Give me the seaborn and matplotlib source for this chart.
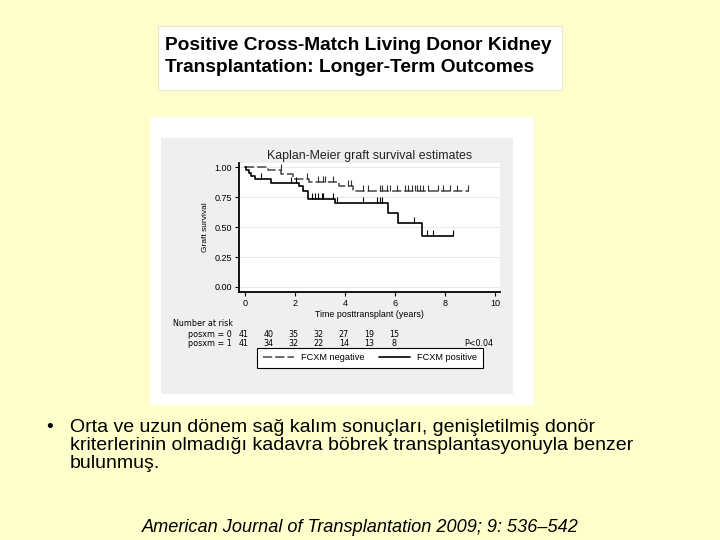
import numpy as np
import pandas as pd
import matplotlib
matplotlib.use("Agg")
import matplotlib.pyplot as plt
from matplotlib.patches import Rectangle
from matplotlib.lines import Line2D
import seaborn as sns

# Kaplan-Meier steps (years, survival after the step)
neg_time = [0, 0.92, 1.45, 1.9, 2.55, 3.75, 4.3, 8.95]
neg_surv = [1.0, 0.975, 0.945, 0.905, 0.877, 0.84, 0.805, 0.805]
neg_cens = [1.43, 2.47, 2.93, 3.13, 3.2, 3.53, 4.13, 4.23, 4.73, 4.93, 5.4, 5.47,
            5.67, 5.8, 6.07, 6.4, 6.53, 6.67, 6.8, 6.87, 7.0, 7.13, 7.33, 7.73,
            7.93, 8.2, 8.47, 8.93]

pos_time = [0, 0.05, 0.15, 0.25, 0.4, 1.05, 2.15, 2.32, 2.5, 3.6, 5.73, 6.13, 7.07, 8.31]
pos_surv = [1.0, 0.976, 0.951, 0.927, 0.90, 0.872, 0.845, 0.80, 0.733, 0.70, 0.617,
            0.532, 0.429, 0.429]
pos_cens = [0.65, 1.85, 2.05, 2.67, 2.8, 2.93, 3.07, 3.13, 3.53, 3.67, 4.73, 5.27,
            5.4, 5.47, 6.77, 7.29, 7.53, 8.31]

risk_years = [0, 1, 2, 3, 4, 5, 6]
risk_neg = [41, 40, 35, 32, 27, 19, 15]
risk_pos = [41, 34, 32, 22, 14, 13, 8]

slide_title = ["Positive Cross-Match Living Donor Kidney",
               "Transplantation: Longer-Term Outcomes"]
bullet_lines = ["Orta ve uzun dönem sağ kalım sonuçları, genişletilmiş donör",
                "kriterlerinin olmadığı kadavra böbrek transplantasyonuyla benzer",
                "bulunmuş."]
citation = "American Journal of Transplantation 2009; 9: 536–542"

sns.set_style("white")
plt.rcParams["font.family"] = ["Liberation Sans", "DejaVu Sans"]
plt.rcParams["text.color"] = "black"
plt.rcParams["axes.labelcolor"] = "black"

W, H = 720, 540


def fbox(x0, y0, x1, y1):
    # pixel box (top-left origin) -> figure fraction [l, b, w, h]
    return [x0 / W, 1 - y1 / H, (x1 - x0) / W, (y1 - y0) / H]


def rect(x0, y0, x1, y1, **kw):
    l, b, w, h = fbox(x0, y0, x1, y1)
    fig.add_artist(Rectangle((l, b), w, h, transform=fig.transFigure, **kw))


fig = plt.figure(figsize=(7.2, 5.4), dpi=100, facecolor="#ffffcc")

# slide title box
rect(158, 26, 562, 90, facecolor="white", edgecolor="#e8e8d0", lw=0.8, zorder=-2)
fig.text(165 / W, 1 - 46 / H, slide_title[0], fontsize=13.8, fontweight="bold", va="center")
fig.text(165 / W, 1 - 67 / H, slide_title[1], fontsize=13.8, fontweight="bold", va="center")

# pasted stata graph
rect(150, 117, 534, 405, facecolor="white", edgecolor="none", zorder=-2)
rect(161, 138, 513, 394, facecolor="#efefef", edgecolor="none", zorder=-1)

ax = fig.add_axes(fbox(239, 163, 500, 292))
ax.set_facecolor("white")

neg_df = pd.DataFrame({"t": neg_time, "s": neg_surv})
pos_df = pd.DataFrame({"t": pos_time, "s": pos_surv})
sns.lineplot(data=neg_df, x="t", y="s", ax=ax, drawstyle="steps-post", color="#454545",
             linestyle=(0, (6, 2)), lw=1.1, estimator=None, sort=False)
sns.lineplot(data=pos_df, x="t", y="s", ax=ax, drawstyle="steps-post", color="black",
             lw=1.2, estimator=None, sort=False)

for times, surv, cens, col in [(neg_time, neg_surv, neg_cens, "#303030"),
                               (pos_time, pos_surv, pos_cens, "black")]:
    idx = np.searchsorted(times, cens, side="right") - 1
    ax.plot(cens, np.array(surv)[idx], linestyle="none", marker=2, markersize=4,
            mew=0.8, color=col)

ax.set_xlim(-0.24, 10.2)
ax.set_ylim(-0.042, 1.036)
ax.set_xticks(range(0, 11, 2))
ax.set_yticks([0, 0.25, 0.5, 0.75, 1.0])
ax.set_yticklabels(["0.00", "0.25", "0.50", "0.75", "1.00"])
ax.yaxis.grid(True, color="#e4e4e4", lw=0.6)
ax.xaxis.grid(False)
ax.set_axisbelow(True)
for side in ["top", "right"]:
    ax.spines[side].set_visible(False)
for side in ["left", "bottom"]:
    ax.spines[side].set_linewidth(1.3)
    ax.spines[side].set_color("black")
ax.tick_params(direction="out", length=3, width=0.8, labelsize=6.5, pad=2,
               left=True, bottom=True, colors="black")
ax.set_title("Kaplan-Meier graft survival estimates", fontsize=8.9, pad=3, color="#222222")
ax.set_ylabel("Graft survival", fontsize=6, labelpad=4)
ax.set_xlabel("Time posttransplant (years)", fontsize=6.4, labelpad=1.5)

# number at risk table (wider font, like the stata export)
tr = ax.get_xaxis_transform()
tf = dict(transform=tr, fontsize=5.8, va="center", family="DejaVu Sans")
ax.text(-2.88, -0.248, "Number at risk", **tf)
ax.text(-2.28, -0.326, "posxm = 0", **tf)
ax.text(-2.28, -0.403, "posxm = 1", **tf)
for yr, a, b in zip(risk_years, risk_neg, risk_pos):
    ax.text(yr - 0.05, -0.326, str(a), ha="center", **tf)
    ax.text(yr - 0.05, -0.403, str(b), ha="center", **tf)
ax.text(9.92, -0.403, "P<0.04", ha="right", **tf)

handles = [Line2D([], [], color="#454545", lw=1.1, linestyle=(0, (6, 2))),
           Line2D([], [], color="black", lw=1.2)]
leg = fig.legend(handles, ["FCXM negative", "FCXM positive"], loc="center",
                 bbox_to_anchor=(370 / W, 1 - 358 / H), ncol=2, fontsize=6.6,
                 frameon=True, fancybox=False, edgecolor="black", framealpha=1,
                 handlelength=3.4, columnspacing=1.6, borderpad=0.65, handletextpad=0.7)
leg.get_frame().set_linewidth(0.8)

# bullet text
fig.text(46 / W, 1 - 428 / H, "•", fontsize=14, va="center")
for i, line in enumerate(bullet_lines):
    fig.text(70 / W, 1 - (428 + 18 * i) / H, line, fontsize=14, va="center")

fig.text(360 / W, 1 - 528 / H, citation, fontsize=13.1, style="italic", ha="center", va="center")

fig.savefig("out.png", dpi=100, facecolor=fig.get_facecolor())
